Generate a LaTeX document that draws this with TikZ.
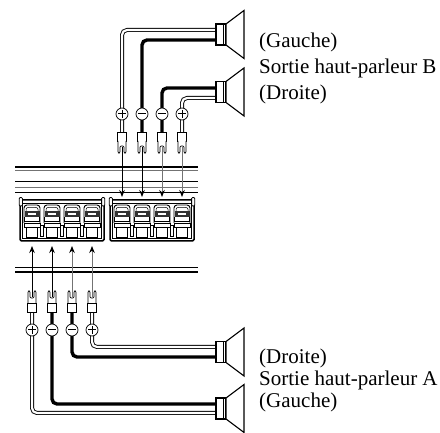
\documentclass[tikz,border=0pt]{standalone}
\usepackage{fontspec}
\setmainfont{Liberation Serif}
\usetikzlibrary{arrows.meta}
\begin{document}
\begin{tikzpicture}[x=1pt,y=-1pt,
  posw/.style={draw=black,line width=0.9pt,double=white,double distance=2.2pt,rounded corners=5pt},
  negw/.style={draw=black,line width=3.4pt,rounded corners=5pt},
  sig/.style={line width=0.9pt,-{Stealth[length=7pt,width=5.5pt]}},
  sigg/.style={sig,draw=black!55,-{Stealth[length=7pt,width=5.5pt,black]}},
  lab/.style={anchor=base west,inner sep=0pt,font=\fontsize{21}{24}\selectfont},
  rail/.style={line width=0.9pt},
  speaker/.pic={
    \draw[line width=1.1pt,fill=white] (0,-10.5) rectangle (10,10.5);
    \draw[line width=0.6pt] (7.5,-10.5) -- (7.5,10.5);
    \draw[line width=1.1pt,fill=white,line join=miter] (10,-10.5) -- (28,-24) -- (28,24) -- (10,10.5) -- cycle;
  },
  minuspole/.pic={
    \draw[fill=white,line width=0.7pt] (0,0) circle (6);
    \draw[line width=1pt] (-3.6,0) -- (3.6,0);
  },
  pluspole/.pic={
    \draw[fill=white,line width=0.7pt] (0,0) circle (6);
    \draw[line width=1pt] (-3.6,0) -- (3.6,0) (0,-3.6) -- (0,3.6);
  },
  spade/.pic={
    \draw[fill=white,line width=0.7pt] (-4.5,0) rectangle (4.5,9);
    \draw[fill=white,line width=0.7pt,rounded corners=1.2pt] (-4,9) -- (-4,21) -- (-2,21) -- (-2,14) -- (2,14) -- (2,21) -- (4,21) -- (4,9);
  },
  tblock/.pic={
    \draw[line width=1.5pt,fill=white,rounded corners=1.5pt] (0,0) rectangle (84,41);
    \draw[line width=0.7pt] (2.5,3) rectangle (81.5,38.5);
    \draw[line width=0.8pt,fill=white,rounded corners=1pt] (-0.8,-2.5) rectangle (2.4,6);
    \draw[line width=0.8pt,fill=white,rounded corners=1pt] (81.6,-2.5) rectangle (84.8,6);
    \foreach \c in {12,32,52,72}{
      \draw[line width=0.9pt,fill=white,rounded corners=3pt] (\c-8,23) -- (\c-8,5) -- (\c+8,5) -- (\c+8,23);
      \draw[line width=0.5pt,rounded corners=2pt] (\c-6,11) -- (\c-6,7.5) -- (\c+6,7.5) -- (\c+6,11);
      \fill[black!80] (\c-7.5,11) rectangle (\c+7.5,17);
      \fill[white] (\c-4,13.3) rectangle (\c+4,14.6);
      \draw[line width=0.5pt] (\c-7.5,17) -- (\c-7.5,21) -- (\c+7.5,21) -- (\c+7.5,17);
      \draw[line width=0.8pt] (\c-8,23) rectangle (\c+8,27);
      \draw[line width=0.8pt] (\c-5.5,27) rectangle (\c+5.5,37);
    }
    \foreach \c in {22,42,62}{
      \draw[line width=0.6pt] (\c-1.5,25) rectangle (\c+1.5,36);
    }
  }
]
\useasboundingbox (0,0) rectangle (440,433);

% coordinates of speaker inputs
\coordinate (sBGin) at (216,34.5);
\coordinate (sBDin) at (216,92);
\coordinate (sADin) at (216,352);
\coordinate (sAGin) at (216,408.5);

% terminal positions
\coordinate (tB1) at (122,132);
\coordinate (tB2) at (142,132);
\coordinate (tB3) at (162,132);
\coordinate (tB4) at (182,132);
\coordinate (tA1) at (32,312);
\coordinate (tA2) at (52,312);
\coordinate (tA3) at (72,312);
\coordinate (tA4) at (92,312);

% rails
\draw[line width=1.6pt] (15,167) -- (198,167);
\draw[line width=0.9pt,black!55] (15,170.5) -- (198,170.5);
\draw[rail] (15,181) -- (198,181);
\draw[line width=1.3pt,black!55] (15,187.5) -- (198,187.5);
\draw[rail] (15,192) -- (198,192);
\draw[line width=1pt] (15,268) -- (198,268);
\draw[line width=1.4pt] (15,272) -- (198,272);

% terminal blocks
\pic at (20,200) {tblock};
\pic at (110,200) {tblock};

% wires output B
\draw[posw] (tB1) |- ([yshift=4.5pt]sBGin);
\draw[negw] (tB2) |- ([yshift=-5.5pt]sBGin);
\draw[negw] (tB3) |- ([yshift=4pt]sBDin);
\draw[posw] (tB4) |- ([yshift=-6pt]sBDin);
% wires output A
\draw[posw] (tA4) |- ([yshift=5pt]sADin);
\draw[negw] (tA3) |- ([yshift=-5pt]sADin);
\draw[negw] (tA2) |- ([yshift=4.5pt]sAGin);
\draw[posw] (tA1) |- ([yshift=-4.5pt]sAGin);

% speakers
\pic at (sBGin) {speaker};
\pic at (sBDin) {speaker};
\pic at (sADin) {speaker};
\pic at (sAGin) {speaker};

% poles
\pic at (122,114) {pluspole};
\pic at (142,114) {minuspole};
\pic at (162,114) {minuspole};
\pic at (182,114) {pluspole};
\pic at (32,330) {pluspole};
\pic at (52,330) {minuspole};
\pic at (72,330) {minuspole};
\pic at (92,330) {pluspole};

% spade connectors and arrows
\foreach \t in {tB1,tB2,tB3,tB4}{ \pic at (\t) {spade}; }
\foreach \t in {tA1,tA2,tA3,tA4}{ \pic[yscale=-1] at (\t) {spade}; }
\draw[sig] ([yshift=-15pt]tB1) -- (122,197);
\draw[sig] ([yshift=-15pt]tB2) -- (142,197);
\draw[sigg] ([yshift=-15pt]tB3) -- (162,197);
\draw[sigg] ([yshift=-15pt]tB4) -- (182,197);
\draw[sig] ([yshift=15pt]tA1) -- (32,246);
\draw[sig] ([yshift=15pt]tA2) -- (52,246);
\draw[sigg] ([yshift=15pt]tA3) -- (72,246);
\draw[sigg] ([yshift=15pt]tA4) -- (92,246);

% labels
\node[lab] (lBG) at (259,48) {(Gauche)};
\node[lab] (lB) at (259,74) {Sortie haut-parleur B};
\node[lab] (lBD) at (259,100) {(Droite)};
\node[lab] (lAD) at (259,363) {(Droite)};
\node[lab] (lA) at (259,386) {Sortie haut-parleur A};
\node[lab] (lAG) at (259,408) {(Gauche)};
\end{tikzpicture}
\end{document}
